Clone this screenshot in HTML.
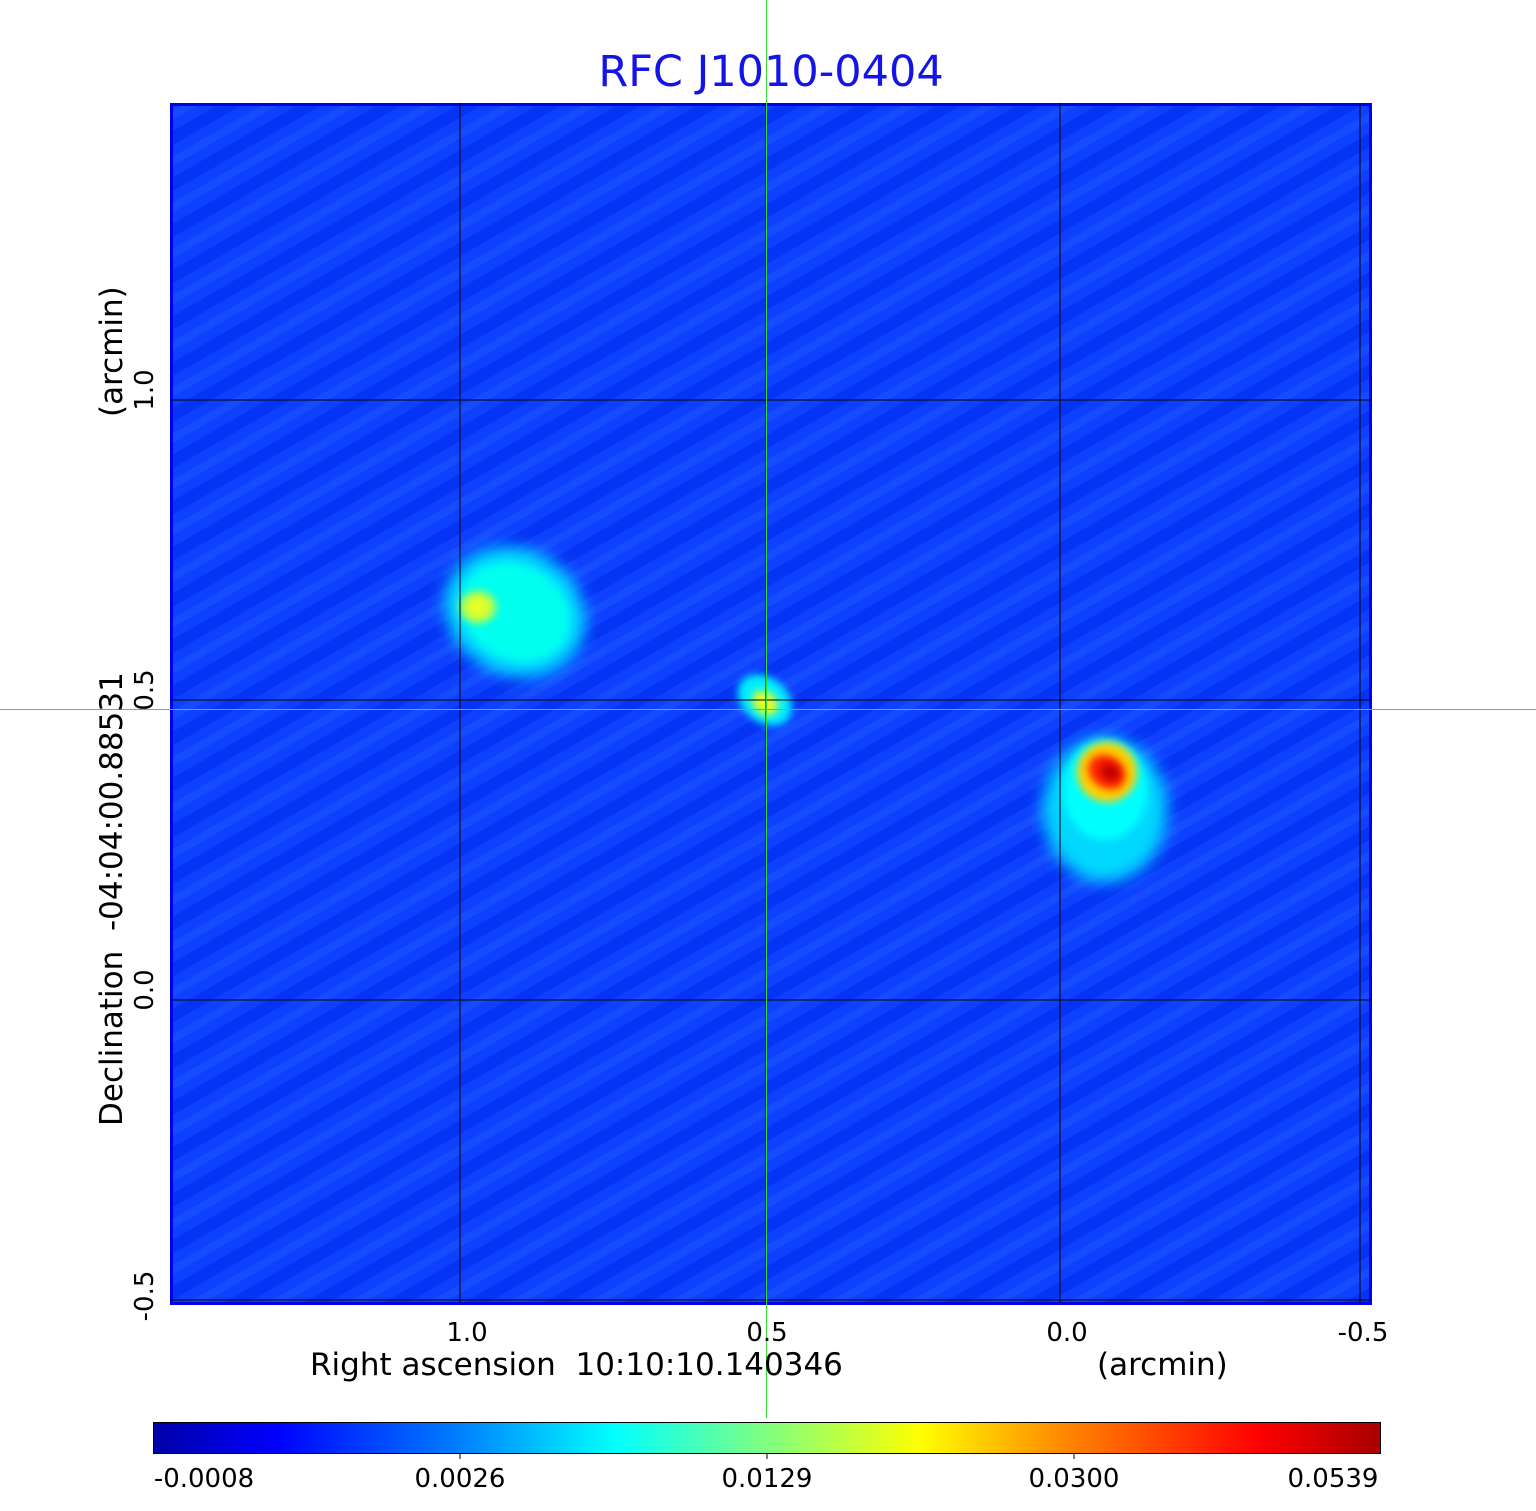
<!DOCTYPE html>
<html><head><style>
html,body{margin:0;padding:0;background:#fff;}
svg{display:block;font-family:"DejaVu Sans","Liberation Sans",sans-serif;}
</style></head><body>
<svg width="1536" height="1511" viewBox="0 0 1536 1511" xmlns="http://www.w3.org/2000/svg">
<defs>
<filter id="b8" x="-50%" y="-50%" width="200%" height="200%"><feGaussianBlur stdDeviation="8"/></filter>
<filter id="b4" x="-50%" y="-50%" width="200%" height="200%"><feGaussianBlur stdDeviation="4"/></filter>
<pattern id="stripe" width="40" height="40" patternUnits="userSpaceOnUse" patternTransform="rotate(-30)">
<rect width="40" height="40" fill="#0e40ff"/>
<rect width="40" height="12" fill="#0634f4"/>
<rect y="22" width="40" height="8" fill="#164cff"/>
</pattern>
<linearGradient id="jet" x1="0" x2="1" y1="0" y2="0">
<stop offset="0" stop-color="#0000a8"/>
<stop offset="0.1" stop-color="#0000ff"/>
<stop offset="0.25" stop-color="#0080ff"/>
<stop offset="0.375" stop-color="#00ffff"/>
<stop offset="0.5" stop-color="#80ff80"/>
<stop offset="0.625" stop-color="#ffff00"/>
<stop offset="0.75" stop-color="#ff8000"/>
<stop offset="0.9" stop-color="#ff0000"/>
<stop offset="1" stop-color="#a80000"/>
</linearGradient>
<clipPath id="pc"><rect x="170" y="103" width="1202" height="1202"/></clipPath>
</defs>
<text x="771" y="86" text-anchor="middle" font-size="43" fill="#1414e6">RFC J1010-0404</text>
<g clip-path="url(#pc)">
<rect x="170" y="103" width="1202" height="1202" fill="url(#stripe)"/>
<ellipse cx="515" cy="612" rx="72" ry="62" fill="#00e0ff" filter="url(#b8)" transform="rotate(30 515 612)"/>
<ellipse cx="515" cy="612" rx="56" ry="46" fill="#00ffee" filter="url(#b4)" transform="rotate(30 515 612)"/>
<ellipse cx="478" cy="607" rx="18" ry="16" fill="#c0ff40" filter="url(#b4)"/>
<ellipse cx="478" cy="607" rx="8" ry="8" fill="#f0ff20" filter="url(#b4)"/>
<ellipse cx="765" cy="700" rx="30" ry="22" fill="#00f0ff" filter="url(#b4)" transform="rotate(40 765 700)"/>
<ellipse cx="765" cy="703" rx="14" ry="11" fill="#e0ff20" filter="url(#b4)" transform="rotate(40 765 703)"/>
<ellipse cx="1105" cy="810" rx="62" ry="72" fill="#00d8ff" filter="url(#b8)"/>
<ellipse cx="1105" cy="790" rx="42" ry="50" fill="#00ffff" filter="url(#b4)"/>
<ellipse cx="1107" cy="772" rx="30" ry="30" fill="#ffd000" filter="url(#b4)" transform="rotate(35 1107 772)"/>
<ellipse cx="1107" cy="772" rx="20" ry="16" fill="#ff2000" filter="url(#b4)" transform="rotate(35 1107 772)"/>
<ellipse cx="1110" cy="772" rx="10" ry="8" fill="#c00000" filter="url(#b4)" transform="rotate(35 1110 772)"/>
</g>
<rect x="171.5" y="104.5" width="1199" height="1199" fill="none" stroke="#0000ee" stroke-width="3"/>
<g stroke="#000" stroke-width="1">
<line x1="460" y1="103" x2="460" y2="1303"/>
<line x1="1060" y1="103" x2="1060" y2="1303"/>
<line x1="1360" y1="103" x2="1360" y2="1303"/>
<line x1="170" y1="400" x2="1370" y2="400"/>
<line x1="170" y1="700" x2="1370" y2="700"/>
<line x1="170" y1="1000" x2="1370" y2="1000"/>
<line x1="170" y1="1300" x2="1370" y2="1300"/>
<line x1="766" y1="103" x2="766" y2="1303"/>
</g>
<line x1="766.5" y1="0" x2="766.5" y2="1418" stroke="#33dd33" stroke-width="1"/>
<line x1="0" y1="709.5" x2="1536" y2="709.5" stroke="#33dd33" stroke-width="1"/>
<g font-size="26" fill="#000" text-anchor="middle">
<text x="467" y="1341">1.0</text>
<text x="767" y="1341">0.5</text>
<text x="1067" y="1341">0.0</text>
<text x="1363" y="1341">-0.5</text>
</g>
<text x="310" y="1375" font-size="31">Right ascension&#160;&#160;10:10:10.140346</text>
<text x="1097" y="1375" font-size="31">(arcmin)</text>
<g font-size="26" fill="#000" text-anchor="middle">
<text transform="translate(153 390) rotate(-90)">1.0</text>
<text transform="translate(153 690) rotate(-90)">0.5</text>
<text transform="translate(153 990) rotate(-90)">0.0</text>
<text transform="translate(153 1296) rotate(-90)">-0.5</text>
</g>
<text transform="translate(122 1126) rotate(-90)" font-size="31">Declination&#160;&#160;-04:04:00.88531</text>
<text transform="translate(122 417) rotate(-90)" font-size="31">(arcmin)</text>
<rect x="153.5" y="1422.5" width="1227" height="31" fill="url(#jet)" stroke="#000" stroke-width="1"/>
<g stroke="#000"><line x1="460" y1="1453" x2="460" y2="1459"/><line x1="767" y1="1453" x2="767" y2="1459"/><line x1="1074" y1="1453" x2="1074" y2="1459"/></g>
<g font-size="26" fill="#000" text-anchor="middle">
<text x="204" y="1487">-0.0008</text>
<text x="460" y="1487">0.0026</text>
<text x="767" y="1487">0.0129</text>
<text x="1074" y="1487">0.0300</text>
<text x="1333" y="1487">0.0539</text>
</g>
</svg>
</body></html>
